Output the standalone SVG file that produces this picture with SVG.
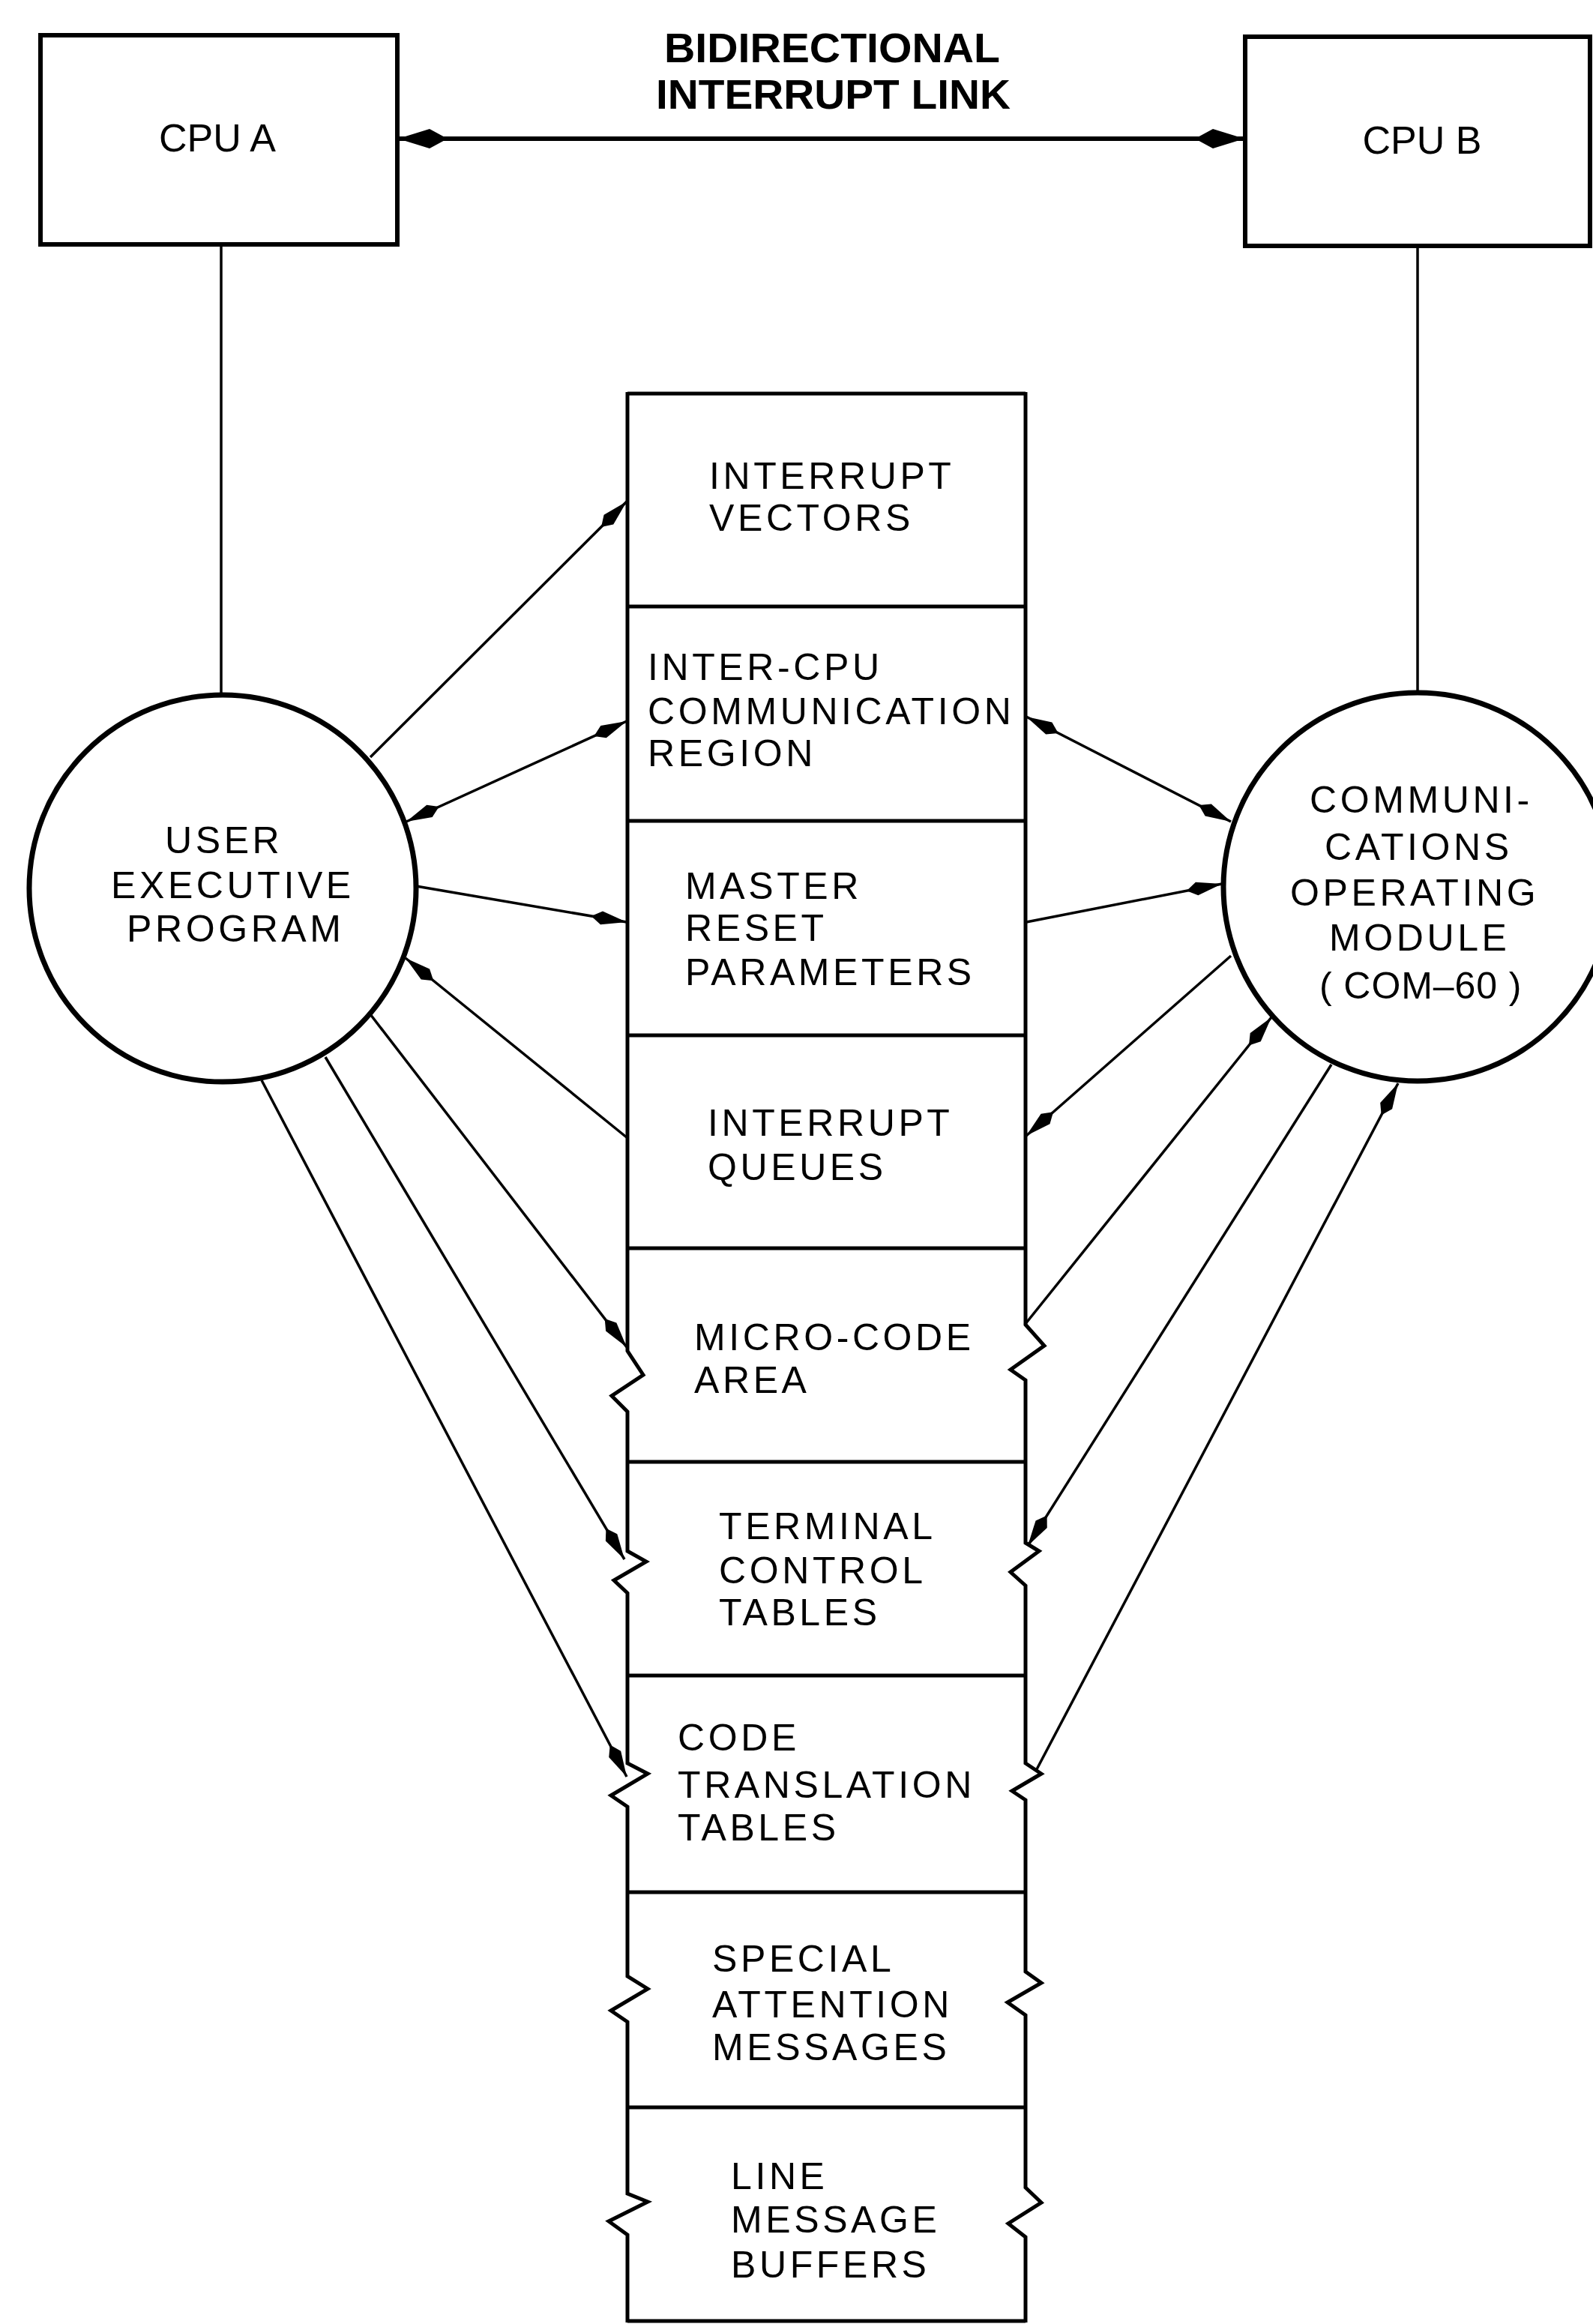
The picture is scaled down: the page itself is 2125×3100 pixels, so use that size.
<svg xmlns="http://www.w3.org/2000/svg" width="2125" height="3100" viewBox="0 0 2125 3100">
<style>
.bg{fill:#fff}
.box{fill:none;stroke:#000;stroke-width:6}
.mem{fill:none;stroke:#000;stroke-width:5;stroke-linejoin:miter}
.circ{fill:#fff;stroke:#000;stroke-width:7}
.ln{fill:none;stroke:#000;stroke-width:3.5}
.link{fill:none;stroke:#000;stroke-width:6}
.t{font-family:"Liberation Sans",Arial,sans-serif;font-size:50px;letter-spacing:4.6px;fill:#000}
.cpu{font-family:"Liberation Sans",Arial,sans-serif;font-size:52px;fill:#000}
.hdr{font-family:"Liberation Sans",Arial,sans-serif;font-size:55px;font-weight:bold;fill:#000}
</style>
<defs>
<marker id="dart" markerUnits="userSpaceOnUse" viewBox="-52 -12 54 24" markerWidth="54" markerHeight="24" refX="0" refY="0" orient="auto-start-reverse">
<path d="M0,0 L-34,-9 L-48,0 L-34,9 Z" fill="#000"/>
</marker>
<marker id="big" markerUnits="userSpaceOnUse" viewBox="-70 -15 72 30" markerWidth="72" markerHeight="30" refX="0" refY="0" orient="auto-start-reverse">
<path d="M0,0 L-42,-13 L-66,0 L-42,13 Z" fill="#000"/>
</marker>
</defs>
<rect class="bg" x="0" y="0" width="2125" height="3100"/>

<g id="connectors">
<line class="link" x1="531" y1="185" x2="1660" y2="185" marker-start="url(#big)" marker-end="url(#big)"/>
<line class="ln" x1="295" y1="326" x2="295" y2="927"/>
<line class="ln" x1="1891" y1="328" x2="1891" y2="924"/>
<!-- left side -->
<line class="ln" x1="494" y1="1010" x2="836" y2="669" marker-end="url(#dart)"/>
<line class="ln" x1="542" y1="1096" x2="836" y2="962" marker-start="url(#dart)" marker-end="url(#dart)"/>
<line class="ln" x1="555" y1="1182" x2="836" y2="1230" marker-end="url(#dart)"/>
<line class="ln" x1="837" y1="1518" x2="541" y2="1278" marker-end="url(#dart)"/>
<line class="ln" x1="494" y1="1353" x2="836" y2="1797" marker-end="url(#dart)"/>
<line class="ln" x1="434" y1="1410" x2="833" y2="2080" marker-end="url(#dart)"/>
<line class="ln" x1="349" y1="1441" x2="836" y2="2370" marker-end="url(#dart)"/>
<!-- right side -->
<line class="ln" x1="1369" y1="956" x2="1642" y2="1096" marker-start="url(#dart)" marker-end="url(#dart)"/>
<line class="ln" x1="1369" y1="1230" x2="1630" y2="1179" marker-end="url(#dart)"/>
<line class="ln" x1="1642" y1="1275" x2="1369" y2="1515" marker-end="url(#dart)"/>
<line class="ln" x1="1367" y1="1767" x2="1696" y2="1357" marker-end="url(#dart)"/>
<line class="ln" x1="1776" y1="1420" x2="1371" y2="2062" marker-end="url(#dart)"/>
<line class="ln" x1="1383" y1="2360" x2="1865" y2="1445" marker-end="url(#dart)"/>
</g>

<g id="cpu-a">
<rect class="box" x="54" y="47" width="476" height="279"/>
<text class="cpu" x="290" y="202" text-anchor="middle">CPU A</text>
</g>

<g id="cpu-b">
<rect class="box" x="1661" y="49" width="460" height="279"/>
<text class="cpu" x="1897" y="205" text-anchor="middle">CPU B</text>
</g>

<g id="link-label">
<text class="hdr" x="886" y="83" textLength="448" lengthAdjust="spacingAndGlyphs">BIDIRECTIONAL</text>
<text class="hdr" x="875" y="145" textLength="473" lengthAdjust="spacingAndGlyphs">INTERRUPT LINK</text>
</g>

<g id="user-executive-program">
<circle class="circ" cx="297" cy="1185" r="258"/>
<text class="t" x="220" y="1138">USER</text>
<text class="t" x="148" y="1198">EXECUTIVE</text>
<text class="t" x="169" y="1256">PROGRAM</text>
</g>

<g id="com-60">
<circle class="circ" cx="1891" cy="1183" r="259"/>
<text class="t" x="1747" y="1084">COMMUNI-</text>
<text class="t" x="1767" y="1147">CATIONS</text>
<text class="t" x="1721" y="1208">OPERATING</text>
<text class="t" x="1773" y="1268">MODULE</text>
<text class="t" x="1760" y="1332" textLength="274">( COM–60 )</text>
</g>

<g id="memory">
<path class="mem" d="M837,525 L1368,525
M837,809 L1368,809 M837,1095 L1368,1095 M837,1381 L1368,1381 M837,1665 L1368,1665
M837,1950 L1368,1950 M837,2235 L1368,2235 M837,2524 L1368,2524 M837,2811 L1368,2811 M837,3096 L1368,3096"/>
<path class="mem" d="M837,523 L837,1802 L858,1834 L816,1862 L837,1883 L837,2069 L862,2083 L819,2108 L837,2125 L837,2352 L864,2366 L815,2395 L837,2410 L837,2636 L864,2653 L815,2682 L837,2697 L837,2926 L864,2937 L812,2963 L837,2981 L837,3098"/>
<path class="mem" d="M1368,523 L1368,1767 L1393,1795 L1348,1827 L1368,1841 L1368,2058 L1386,2069 L1348,2097 L1368,2115 L1368,2352 L1389,2366 L1350,2389 L1368,2401 L1368,2630 L1389,2645 L1344,2671 L1368,2688 L1368,2918 L1389,2938 L1345,2966 L1368,2984 L1368,3098"/>
</g>

<g id="interrupt-vectors">
<text class="t" x="946" y="652">INTERRUPT</text>
<text class="t" x="946" y="708">VECTORS</text>
</g>
<g id="inter-cpu-region">
<text class="t" x="864" y="907">INTER-CPU</text>
<text class="t" x="864" y="966">COMMUNICATION</text>
<text class="t" x="864" y="1022">REGION</text>
</g>
<g id="master-reset">
<text class="t" x="914" y="1199">MASTER</text>
<text class="t" x="914" y="1255">RESET</text>
<text class="t" x="914" y="1314">PARAMETERS</text>
</g>
<g id="interrupt-queues">
<text class="t" x="944" y="1515">INTERRUPT</text>
<text class="t" x="944" y="1574">QUEUES</text>
</g>
<g id="micro-code">
<text class="t" x="926" y="1801">MICRO-CODE</text>
<text class="t" x="926" y="1858">AREA</text>
</g>
<g id="terminal-control">
<text class="t" x="959" y="2053">TERMINAL</text>
<text class="t" x="959" y="2112">CONTROL</text>
<text class="t" x="959" y="2168">TABLES</text>
</g>
<g id="code-translation">
<text class="t" x="904" y="2335">CODE</text>
<text class="t" x="904" y="2398">TRANSLATION</text>
<text class="t" x="904" y="2455">TABLES</text>
</g>
<g id="special-attention">
<text class="t" x="950" y="2630">SPECIAL</text>
<text class="t" x="950" y="2691">ATTENTION</text>
<text class="t" x="950" y="2748">MESSAGES</text>
</g>
<g id="line-message-buffers">
<text class="t" x="975" y="2920">LINE</text>
<text class="t" x="975" y="2978">MESSAGE</text>
<text class="t" x="975" y="3038">BUFFERS</text>
</g>
</svg>
